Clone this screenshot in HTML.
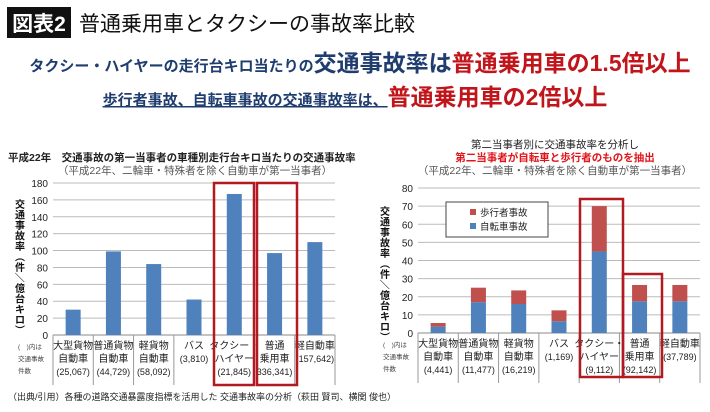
<!DOCTYPE html>
<html><head><meta charset="utf-8">
<style>
body{margin:0;width:710px;height:407px;background:#fff;overflow:hidden;font-family:"Liberation Sans","Noto Sans CJK JP",sans-serif;}
svg text{font-family:"Liberation Sans","Noto Sans CJK JP",sans-serif;}
</style></head>
<body>
<svg id="s" width="710" height="407" xmlns="http://www.w3.org/2000/svg">
<rect x="7" y="7" width="64" height="31" fill="#111"/>
<text x="39" y="31" fill="#fff" font-size="21" font-weight="bold" text-anchor="middle">図表2</text>
<text x="79" y="31" fill="#111" font-size="21">普通乗用車とタクシーの事故率比較</text>
<text x="360" y="71" text-anchor="middle" font-weight="bold"><tspan font-size="15" fill="#1f3d6e">タクシー・ハイヤーの走行台キロ当たりの</tspan><tspan font-size="23" fill="#1f3d6e">交通事故率は</tspan><tspan font-size="23" fill="#c0161b">普通乗用車の1.5倍以上</tspan></text>
<text x="355" y="105" text-anchor="middle" font-weight="bold"><tspan font-size="15" fill="#1f3d6e" text-decoration="underline">歩行者事故、自転車事故の交通事故率は、</tspan><tspan font-size="23" fill="#c0161b">普通乗用車の2倍以上</tspan></text>
<g id="left"></g><g id="right"></g>
<text x="8" y="400" font-size="9" fill="#222">（出典/引用）各種の道路交通暴露度指標を活用した 交通事故率の分析（萩田 賢司、横関 俊也）</text>
</svg>
<script>
const leftCats=[["大型貨物","自動車","(25,067)"],["普通貨物","自動車","(44,729)"],["軽貨物","自動車","(58,092)"],["バス","(3,810)",""],["タクシー・","ハイヤー","(21,845)"],["普通","乗用車","336,341)"],["軽自動車","(157,642)",""]];
const leftVals=[30,99,84,42,167,97,110];
const leftTicks=[0,20,40,60,80,100,120,140,160,180];
const rightCats=[["大型貨物","自動車","(4,441)"],["普通貨物","自動車","(11,477)"],["軽貨物","自動車","(16,219)"],["バス","(1,169)",""],["タクシー・","ハイヤー","(9,112)"],["普通","乗用車","(92,142)"],["軽自動車","(37,789)",""]];
const bikeVals=[3.5,17,16,6.5,45,17.5,17.5];
const pedVals=[2,8,7.5,6,25,9,9];
const rightTicks=[0,10,20,30,40,50,60,70,80];
const NS="http://www.w3.org/2000/svg";
function mk(p,t,a,txt){const e=document.createElementNS(NS,t);for(const k in a)e.setAttribute(k,a[k]);if(txt!==undefined)e.textContent=txt;p.appendChild(e);return e;}
function chart(g,o){
  const y=v=>o.y0-(v/o.max)*(o.y0-o.y1);
  const bw=(o.x1-o.x0)/o.cats.length;
  const x=i=>o.x0+bw*i;
  o.ticks.forEach(t=>{
    const l=mk(g,'line',{x1:o.x0,x2:o.x1,y1:y(t),y2:y(t),stroke:t===0?'#888':'#bbb','stroke-width':1});
    
    
    const tx=mk(g,'text',{x:o.x0-5,y:y(t)+4,'font-size':10,'text-anchor':'end',fill:'#222'},t);
    
    
  });
  for(let i=0;i<=o.cats.length;i++){
    const l=mk(g,'line',{x1:x(i),x2:x(i),y1:o.y0,y2:o.y0+50,stroke:'#999','stroke-width':1});
    
    
  }
  o.cats.forEach((c,i)=>{
    c.forEach((s,j)=>{if(!s)return;
      const t=mk(g,'text',{x:x(i)+bw/2,y:o.y0+14+j*13,'font-size':j==2||(j==1&&c[2]==="")?9:10,'text-anchor':'middle',fill:'#222'},s);
      
      
    });
  });
  o.series.forEach((vals,si)=>{
    vals.forEach((v,i)=>{
      const base=si===0?0:o.series.slice(0,si).reduce((a,s)=>a+s[i],0);
      const r=mk(g,'rect',{x:x(i)+bw/2-7.5,width:15,y:y(base+v),height:y(base)-y(base+v),fill:o.colors[si]});
      
      
    });
  });
  const ax=o.x0-33;
  '交通事故率︵件／億台キロ︶'.split('').forEach((ch,k)=>{
    const a={x:ax,y:o.ytTop+k*10.5,'font-size':10,'font-weight':'bold','text-anchor':'middle',fill:'#111'};
    if(ch==='／'){a.transform='rotate(90 '+ax+' '+(o.ytTop+k*10.5-4)+')';}
    const t=mk(g,'text',a,ch);
    
    
  });
  const n=[["(　)内は",0],["交通事故",1],["件数",2]];
  n.forEach(([s,k])=>{const t=mk(g,'text',{x:o.x0-35,y:o.y0+14+k*12,'font-size':6.5,fill:'#444'},s);
    
    });
}
const L=document.getElementById('left'),R=document.getElementById('right');
chart(L,{x0:53,x1:335,y0:335,y1:183,max:180,cats:leftCats,ticks:leftTicks,series:[leftVals],colors:['#4f81bd'],ytTop:208});
chart(R,{x0:418,x1:700,y0:333,y1:188,max:80,cats:rightCats,ticks:rightTicks,series:[bikeVals,pedVals],colors:['#4f81bd','#c0504d'],ytTop:215});
function t(p,a,s,n){const e=mk(p,'text',a,s);return e;}
t(L,{x:8,y:161,'font-size':10.5,'font-weight':'bold',fill:'#222'},'平成22年　交通事故の第一当事者の車種別走行台キロ当たりの交通事故率','left-chart-title');
t(L,{x:195,y:174,'font-size':10.5,'text-anchor':'middle',fill:'#555'},'（平成22年、二輪車・特殊者を除く自動車が第一当事者）','left-chart-subtitle');
t(R,{x:555,y:148,'font-size':10.5,'text-anchor':'middle',fill:'#222'},'第二当事者別に交通事故率を分析し','right-chart-title');
t(R,{x:555,y:161,'font-size':10.5,'font-weight':'bold','text-anchor':'middle',fill:'#e0161b'},'第二当事者が自転車と歩行者のものを抽出','right-chart-title-2');
t(R,{x:555,y:174,'font-size':10.5,'text-anchor':'middle',fill:'#555'},'（平成22年、二輪車・特殊者を除く自動車が第一当事者）','right-chart-subtitle');
function box(p,x,y,w,h){const r=mk(p,'rect',{x,y,width:w,height:h,fill:'none',stroke:'#b01a20','stroke-width':2.5});}
box(L,214,183,40,202);box(L,257,183,40,202);
box(R,580,199,43,178);box(R,623,274,39,103);
const lg=mk(R,'rect',{x:446,y:202,width:102,height:35,fill:'#fff',stroke:'#444'});
[['#c0504d','歩行者事故'],['#4f81bd','自転車事故']].forEach(([c,s],k)=>{
  const r=mk(R,'rect',{x:470,y:209+k*14,width:6,height:6,fill:c});
  t(R,{x:480,y:216+k*14,'font-size':9.5,fill:'#222'},s,'legend-entry');
});
</script>
</body></html>
